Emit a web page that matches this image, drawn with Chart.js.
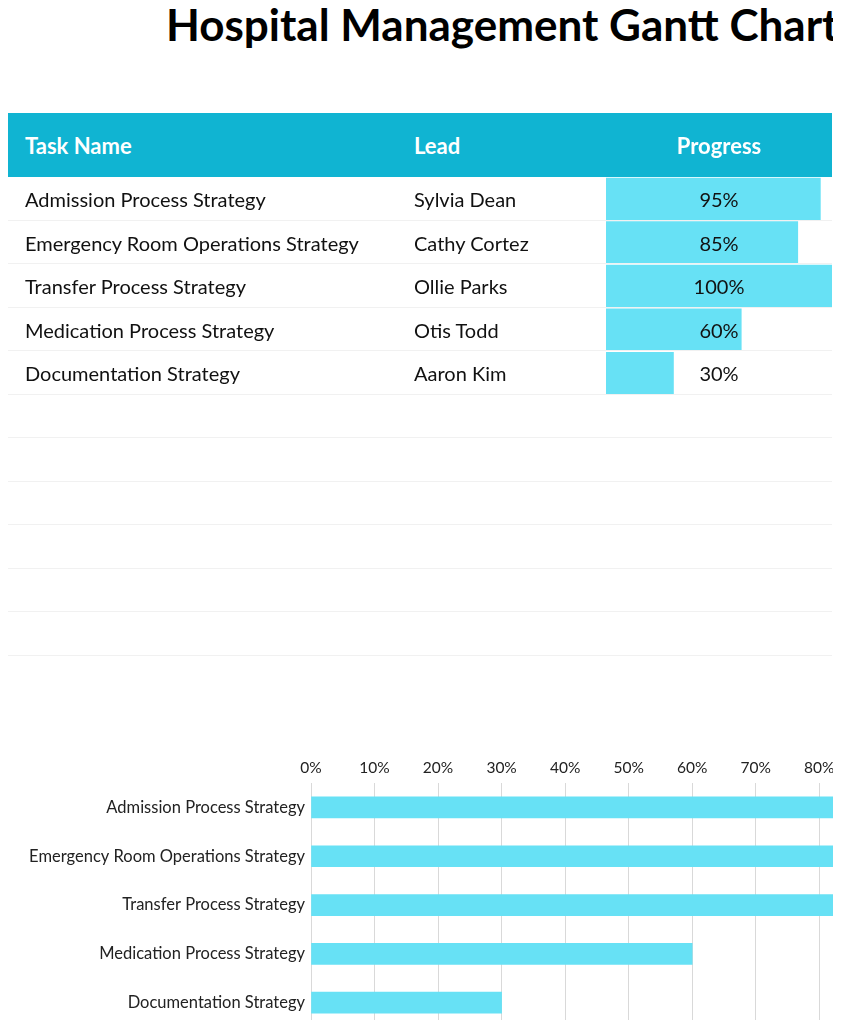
<!DOCTYPE html>
<html>
<head>
<meta charset="utf-8">
<title>Hospital Management Gantt Chart</title>
<script src="https://cdn.jsdelivr.net/npm/chart.js@4.4.0/dist/chart.umd.min.js"></script>
<style>
    html, body { margin: 0; padding: 0; background: #fff; }
    body { width: 841px; height: 1020px; overflow: hidden; font-family: Lato, sans-serif; position: relative; }
    #page { position: absolute; left: 8px; top: 0; width: 825px; height: 1020px; overflow: hidden; }
    h1 { position: absolute; left: 158px; top: 2px; margin: 0; font-size: 44px; line-height: 44px; font-weight: 700; color: #000; white-space: nowrap; }
    .head { position: absolute; left: 0; top: 113px; width: 824px; height: 64px; background: #10b4d2; color: #fff; font-weight: 700; font-size: 22px; }
    .head span, .row span { position: absolute; top: 1px; white-space: nowrap; }
    .head span { line-height: 64px; }
    .row { position: absolute; left: 0; width: 824px; height: 43.5px; box-sizing: border-box; border-bottom: 1px solid #f1f1f1; font-size: 20px; color: #111; }
    .row span { line-height: 43px; }
    .c1 { left: 17px; }
    .c2 { left: 406px; }
    .c3 { left: 598px; width: 226px; text-align: center; }
    #progressCanvas { position: absolute; left: 598px; top: 177px; }
    #ganttCanvas { position: absolute; left: 0; top: 740px; }
</style>
</head>
<body>
<div id="page">
    <h1>Hospital Management Gantt Chart</h1>
    <canvas id="progressCanvas" width="226" height="218"></canvas>
    <div class="head"><span class="c1">Task Name</span><span class="c2">Lead</span><span class="c3">Progress</span></div>
    <div id="rows"></div>
    <canvas id="ganttCanvas" width="964" height="303"></canvas>
</div>
<script>
// Table / chart data
const tasks = ['Admission Process Strategy', 'Emergency Room Operations Strategy', 'Transfer Process Strategy', 'Medication Process Strategy', 'Documentation Strategy'];
const leads = ['Sylvia Dean', 'Cathy Cortez', 'Ollie Parks', 'Otis Todd', 'Aaron Kim'];
const progress = [95, 85, 100, 60, 30];
const emptyRows = 6;

const barColor = '#67e1f5';

document.addEventListener('DOMContentLoaded', function() {
    buildRows();
    initProgressChart();
    initGanttChart();
});

// Build the table rows (filled + empty)
function buildRows() {
    const wrap = document.getElementById('rows');
    const total = tasks.length + emptyRows;
    for (let i = 0; i < total; i++) {
        const row = document.createElement('div');
        row.className = 'row';
        row.style.top = (177 + i * 43.5) + 'px';
        if (i < tasks.length) {
            row.innerHTML = '<span class="c1">' + tasks[i] + '</span>' +
                '<span class="c2">' + leads[i] + '</span>' +
                '<span class="c3">' + progress[i] + '%</span>';
        }
        wrap.appendChild(row);
    }
}

// Progress bars inside the table column
function initProgressChart() {
    const ctx = document.getElementById('progressCanvas').getContext('2d');
    new Chart(ctx, {
        type: 'bar',
        data: {
            labels: tasks,
            datasets: [{
                data: progress,
                backgroundColor: barColor,
                borderWidth: 0,
                categoryPercentage: 1,
                barPercentage: 0.97
            }]
        },
        options: {
            indexAxis: 'y',
            responsive: false,
            animation: false,
            layout: { padding: 0 },
            plugins: { legend: { display: false }, tooltip: { enabled: false } },
            scales: {
                x: { display: false, min: 0, max: 100 },
                y: { display: false }
            }
        }
    });
}

// Gantt style bar chart at the bottom
function initGanttChart() {
    const ctx = document.getElementById('ganttCanvas').getContext('2d');
    new Chart(ctx, {
        type: 'bar',
        data: {
            labels: tasks,
            datasets: [{
                data: progress,
                backgroundColor: barColor,
                borderWidth: 0,
                barThickness: 21
            }]
        },
        options: {
            indexAxis: 'y',
            responsive: false,
            animation: false,
            layout: { padding: { left: 0, right: 22, top: 0, bottom: 0 } },
            plugins: { legend: { display: false }, tooltip: { enabled: false } },
            scales: {
                x: {
                    position: 'top',
                    min: 0,
                    max: 100,
                    border: { display: false },
                    grid: { color: '#d9d9d9', drawTicks: false },
                    ticks: {
                        stepSize: 10,
                        padding: 6,
                        color: '#222',
                        font: { family: 'Lato', size: 15.5 },
                        callback: function(value) { return value + '%'; }
                    },
                    afterFit: function(scale) { scale.height = 43; }
                },
                y: {
                    border: { display: false },
                    grid: { display: false, drawTicks: false },
                    ticks: {
                        padding: 6,
                        color: '#222',
                        font: { family: 'Lato', size: 16.5 }
                    },
                    afterFit: function(scale) { scale.width = 303; }
                }
            }
        }
    });
}
</script>
</body>
</html>
